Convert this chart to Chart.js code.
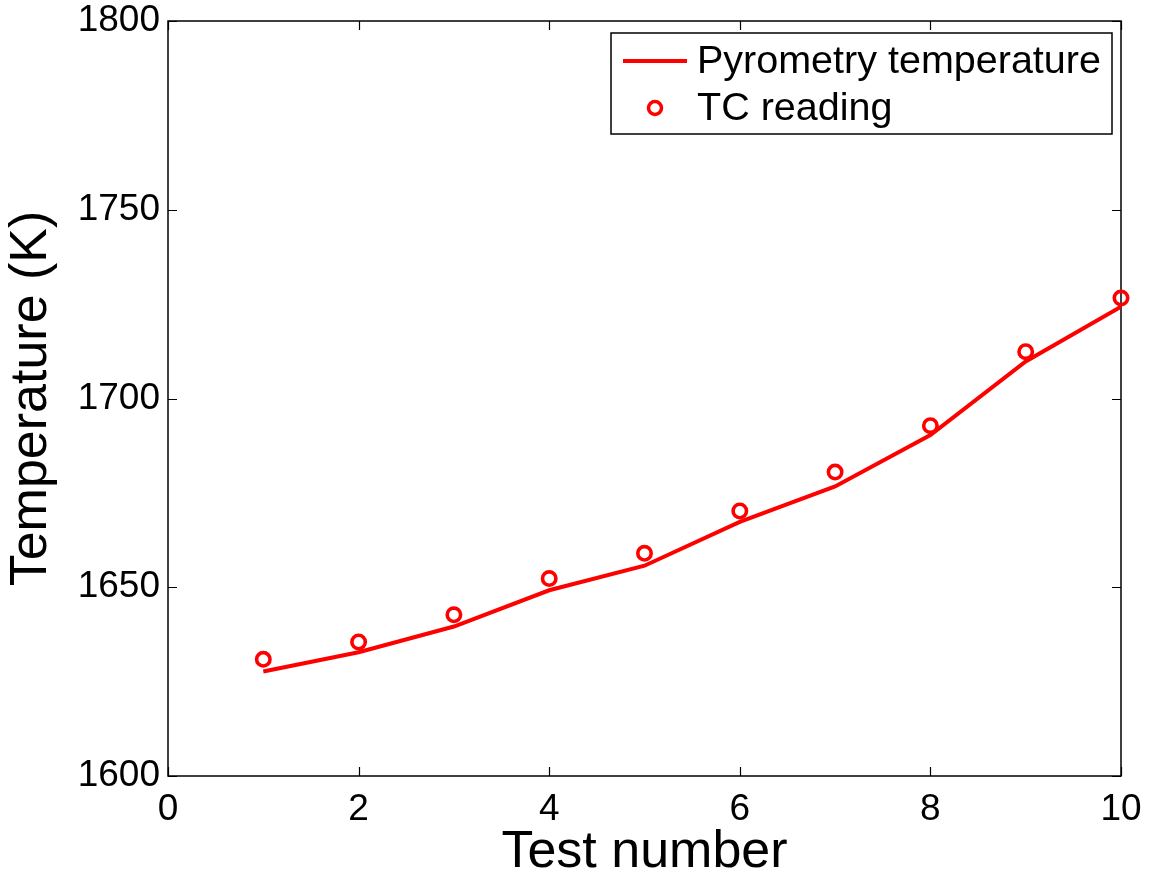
<!DOCTYPE html>
<html>
<head>
<meta charset="utf-8">
<script src="https://cdn.jsdelivr.net/npm/chart.js@4/dist/chart.umd.min.js"></script>
<style>
    html, body { margin: 0; padding: 0; background: #ffffff; }
    #wrap { width: 1155px; height: 876px; }
</style>
</head>
<body>
<div id="wrap"><canvas id="tempChart" width="1155" height="876"></canvas></div>
<script>
// ============================================================================
// DATA
// ============================================================================

const testNumbers = [1, 2, 3, 4, 5, 6, 7, 8, 9, 10];
const pyrometryTemps = [1627.7, 1632.8, 1639.6, 1649.2, 1655.7, 1667.3, 1676.7, 1690.3, 1709.8, 1724.3];
const tcReadings = [1630.9, 1635.5, 1642.7, 1652.3, 1659.0, 1670.2, 1680.5, 1692.8, 1712.4, 1726.6];
const seriesNames = ['Pyrometry temperature', 'TC reading'];

const FONT = "'Liberation Sans', Arial, Helvetica, sans-serif";
const RED = '#ff0000';

// ============================================================================
// PLUGINS
// ============================================================================

/**
 * MATLAB style box: frame round the plot and ticks pointing inwards on all sides
 */
const boxPlugin = {
    id: 'matlabBox',
    beforeDatasetsDraw(chart) {
        const { ctx, chartArea: a, scales } = chart;
        const len = 9;
        ctx.save();
        ctx.strokeStyle = '#000000';
        ctx.lineWidth = 1.2;

        scales.x.ticks.forEach(t => {
            const px = Math.round(scales.x.getPixelForValue(t.value)) + 0.5;
            ctx.beginPath();
            ctx.moveTo(px, a.bottom); ctx.lineTo(px, a.bottom - len);
            ctx.moveTo(px, a.top); ctx.lineTo(px, a.top + len);
            ctx.stroke();
        });
        scales.y.ticks.forEach(t => {
            const py = Math.round(scales.y.getPixelForValue(t.value)) + 0.5;
            ctx.beginPath();
            ctx.moveTo(a.left, py); ctx.lineTo(a.left + len, py);
            ctx.moveTo(a.right, py); ctx.lineTo(a.right - len, py);
            ctx.stroke();
        });

        ctx.lineWidth = 1.5;
        ctx.strokeRect(a.left, a.top, a.right - a.left, a.bottom - a.top);
        ctx.restore();
    }
};

/**
 * Boxed legend in the top right corner of the plot
 */
const legendBoxPlugin = {
    id: 'legendBox',
    afterDraw(chart) {
        const { ctx, chartArea: a } = chart;
        const right = a.right - 9;
        const left = right - 501;
        const top = a.top + 12;
        const height = 101;

        ctx.save();
        ctx.fillStyle = '#ffffff';
        ctx.fillRect(left, top, right - left, height);
        ctx.strokeStyle = '#000000';
        ctx.lineWidth = 1.5;
        ctx.strokeRect(left, top, right - left, height);

        const row1 = top + 28;
        const row2 = top + 75;

        // line sample
        ctx.strokeStyle = RED;
        ctx.lineWidth = 4;
        ctx.beginPath();
        ctx.moveTo(left + 12, row1);
        ctx.lineTo(left + 76, row1);
        ctx.stroke();

        // marker sample
        ctx.lineWidth = 3.5;
        ctx.beginPath();
        ctx.arc(left + 44, row2, 6.5, 0, Math.PI * 2);
        ctx.stroke();

        ctx.fillStyle = '#000000';
        ctx.font = '39.5px ' + FONT;
        ctx.textBaseline = 'middle';
        ctx.fillText(seriesNames[0], left + 86, row1 + 1);
        ctx.fillText(seriesNames[1], left + 86, row2 + 1);
        ctx.restore();
    }
};

// ============================================================================
// CHART
// ============================================================================

const canvas = document.getElementById('tempChart');

new Chart(canvas, {
    type: 'line',
    data: {
        datasets: [
            {
                label: seriesNames[0],
                data: testNumbers.map((n, i) => ({ x: n, y: pyrometryTemps[i] })),
                borderColor: RED,
                borderWidth: 4,
                pointRadius: 0,
                fill: false,
                tension: 0
            },
            {
                label: seriesNames[1],
                data: testNumbers.map((n, i) => ({ x: n, y: tcReadings[i] })),
                showLine: false,
                clip: false,
                pointStyle: 'circle',
                pointRadius: 6.7,
                pointBorderWidth: 3.6,
                pointBorderColor: RED,
                pointBackgroundColor: 'rgba(0,0,0,0)'
            }
        ]
    },
    options: {
        responsive: false,
        animation: false,
        layout: {
            padding: { left: 0, right: 34, top: 21, bottom: 0 }
        },
        plugins: {
            legend: { display: false },
            tooltip: { enabled: false }
        },
        scales: {
            x: {
                type: 'linear',
                min: 0,
                max: 10,
                grid: { display: false, drawTicks: false },
                border: { display: false },
                ticks: {
                    stepSize: 2,
                    color: '#000000',
                    padding: 12,
                    font: { family: FONT, size: 37 },
                    callback: v => String(v)
                },
                title: {
                    display: true,
                    text: 'Test number',
                    color: '#000000',
                    padding: { top: 0, bottom: -8 },
                    font: { family: FONT, size: 52 }
                },
                afterFit(scale) { scale.height = 100; }
            },
            y: {
                min: 1600,
                max: 1800,
                grid: { display: false, drawTicks: false },
                border: { display: false },
                ticks: {
                    stepSize: 50,
                    color: '#000000',
                    padding: 8,
                    font: { family: FONT, size: 37, lineHeight: 0.6 },
                    callback: v => String(v)
                },
                title: {
                    display: true,
                    text: 'Temperature (K)',
                    color: '#000000',
                    padding: { top: 0, bottom: 0 },
                    font: { family: FONT, size: 52 }
                },
                afterFit(scale) { scale.width = 168; }
            }
        }
    },
    plugins: [boxPlugin, legendBoxPlugin]
});
</script>
</body>
</html>
